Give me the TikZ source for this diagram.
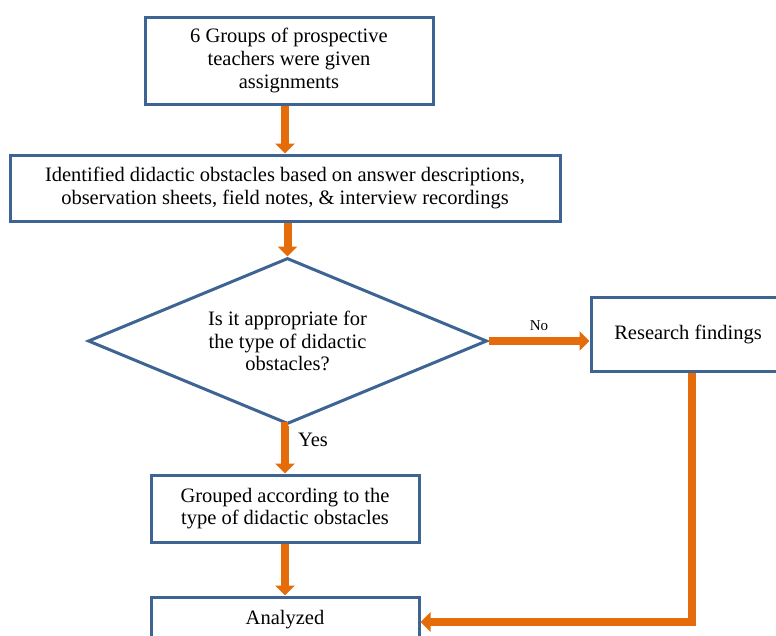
\documentclass[tikz,border=0pt]{standalone}
\usepackage{fontspec}
\setmainfont{Liberation Serif}
\usetikzlibrary{arrows.meta,shapes.geometric}
\definecolor{bord}{RGB}{62,100,148}
\definecolor{orng}{RGB}{228,108,10}
\tikzset{
  box/.style={draw=bord, line width=3pt, fill=white, align=center, font=\fontsize{20.5}{22.8}\selectfont, inner sep=0pt},
  dia/.style={draw=bord, line width=3pt, fill=white, diamond, aspect=2.4, align=center, font=\fontsize{20.5}{22.8}\selectfont, inner sep=0pt},
  arr/.style={draw=orng, line width=8pt, -{Triangle[width=19pt,length=10pt]}},
  lbl/.style={font=\fontsize{20.5}{22}\selectfont, inner sep=0pt}
}
\begin{document}
\begin{tikzpicture}[x=1pt,y=-1pt]
\useasboundingbox (0,0) rectangle (776,635);
\node[box, minimum width=288, minimum height=87] (b1) at (289,60.5) {6 Groups of prospective\\teachers were given\\assignments};
\node[box, minimum width=550, minimum height=66] (b2) at (285,188) {Identified didactic obstacles based on answer descriptions,\\observation sheets, field notes, \& interview recordings};
\node[dia, minimum width=399, minimum height=166] (d) at (287.5,341) {Is it appropriate for\\the type of didactic\\obstacles?};
\node[box, minimum width=268, minimum height=67] (b3) at (285,508.5) {Grouped according to the\\type of didactic obstacles};
\node[box, minimum width=268, minimum height=46] (b4) at (285,620) {Analyzed};
\node[box, minimum width=194, minimum height=74] (rf) at (688,334) {Research findings};
\draw[arr] (b2.north |- b1.south) -- (b2.north);
\draw[arr] (d.north |- b2.south) -- (d.north);
\draw[arr] (d.south) -- (b3.north |- d.south) -- (b3.north) node[lbl, pos=0.3, right=9pt] {Yes};
\draw[arr] (b3.south) -- (b4.north);
\draw[arr] (d.east) -- (d.east -| rf.west) node[midway, above=6pt, font=\fontsize{15}{16}\selectfont, inner sep=0pt] {No};
\draw[arr] ([xshift=4pt]rf.south) |- ([yshift=-2pt]b4.east);
\end{tikzpicture}
\end{document}
